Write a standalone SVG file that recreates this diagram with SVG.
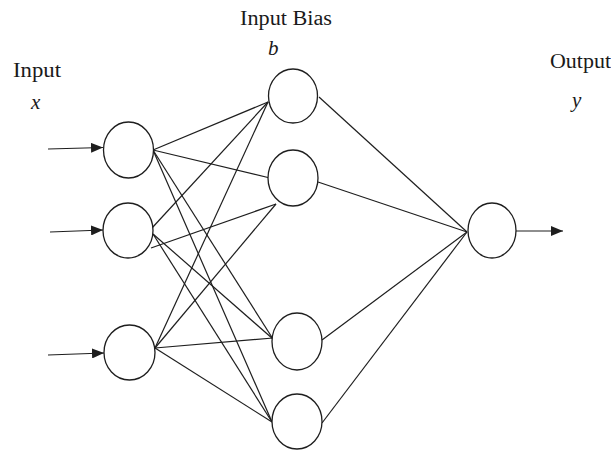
<svg xmlns="http://www.w3.org/2000/svg" width="611" height="450" viewBox="0 0 611 450">
<style>
  .node { fill: #ffffff; stroke: #1e1e1e; stroke-width: 1.3; }
  .edge { stroke: #1e1e1e; stroke-width: 1.2; fill: none; }
  .lbl { font-family: "Liberation Serif", "Times New Roman", serif; font-size: 20px; fill: #1a1a1a; }
  .var { font-family: "Liberation Serif", "Times New Roman", serif; font-size: 21px; font-style: italic; fill: #1a1a1a; }
</style>
<defs>
  <marker id="arrow" markerUnits="userSpaceOnUse" markerWidth="12" markerHeight="10" refX="12" refY="5" orient="auto">
    <path d="M0,0 L12,5 L0,10 Z" fill="#1e1e1e"/>
  </marker>
</defs>
<rect width="611" height="450" fill="#ffffff"/>
<g id="connectors">
  <!-- input arrows -->
  <line class="edge" x1="48" y1="149" x2="103" y2="147.5" marker-end="url(#arrow)"/>
  <line class="edge" x1="50" y1="232" x2="103" y2="230" marker-end="url(#arrow)"/>
  <line class="edge" x1="48" y1="355" x2="104" y2="353" marker-end="url(#arrow)"/>
  <!-- input 1 -->
  <line class="edge" x1="153" y1="150" x2="268" y2="102"/>
  <line class="edge" x1="153" y1="150" x2="270" y2="178"/>
  <line class="edge" x1="153" y1="150" x2="273" y2="339"/>
  <line class="edge" x1="153" y1="150" x2="272" y2="422"/>
  <!-- input 2 -->
  <line class="edge" x1="152" y1="228" x2="268" y2="102"/>
  <line class="edge" x1="151" y1="248" x2="276" y2="204"/>
  <line class="edge" x1="153" y1="234" x2="273" y2="339"/>
  <line class="edge" x1="153" y1="234" x2="272" y2="422"/>
  <!-- input 3 -->
  <line class="edge" x1="155" y1="348" x2="268" y2="102"/>
  <line class="edge" x1="155" y1="348" x2="276" y2="204"/>
  <line class="edge" x1="155" y1="348" x2="273" y2="338"/>
  <line class="edge" x1="155" y1="348" x2="272" y2="422"/>
  <!-- hidden to output -->
  <line class="edge" x1="319" y1="97" x2="467" y2="232"/>
  <line class="edge" x1="318" y1="182" x2="467" y2="232"/>
  <line class="edge" x1="322" y1="340" x2="467" y2="232"/>
  <line class="edge" x1="322" y1="423" x2="467" y2="232"/>
  <!-- output arrow -->
  <line class="edge" x1="516" y1="231" x2="563" y2="231" marker-end="url(#arrow)"/>
</g>
<g id="input1"><ellipse class="node" cx="128.5" cy="150" rx="25" ry="28"/></g>
<g id="input2"><ellipse class="node" cx="128" cy="230.5" rx="25" ry="27.5"/></g>
<g id="input3"><ellipse class="node" cx="129.5" cy="352.5" rx="25.5" ry="27.5"/></g>
<g id="hidden1"><ellipse class="node" cx="293" cy="96" rx="24.5" ry="27"/></g>
<g id="hidden2"><ellipse class="node" cx="293" cy="178" rx="25" ry="28"/></g>
<g id="hidden3"><ellipse class="node" cx="297" cy="341.5" rx="25" ry="28.5"/></g>
<g id="hidden4"><ellipse class="node" cx="297" cy="421.5" rx="25" ry="27.5"/></g>
<g id="output"><ellipse class="node" cx="492" cy="230.5" rx="24" ry="27.5"/></g>
<g id="labels">
  <text class="lbl" x="13" y="77" textLength="48" lengthAdjust="spacingAndGlyphs">Input</text>
  <text class="var" x="31" y="109">x</text>
  <text class="lbl" x="240" y="25" textLength="92" lengthAdjust="spacingAndGlyphs">Input Bias</text>
  <text class="var" x="268" y="55">b</text>
  <text class="lbl" x="550" y="68" textLength="61" lengthAdjust="spacingAndGlyphs">Output</text>
  <text class="var" x="572" y="107">y</text>
</g>
</svg>
